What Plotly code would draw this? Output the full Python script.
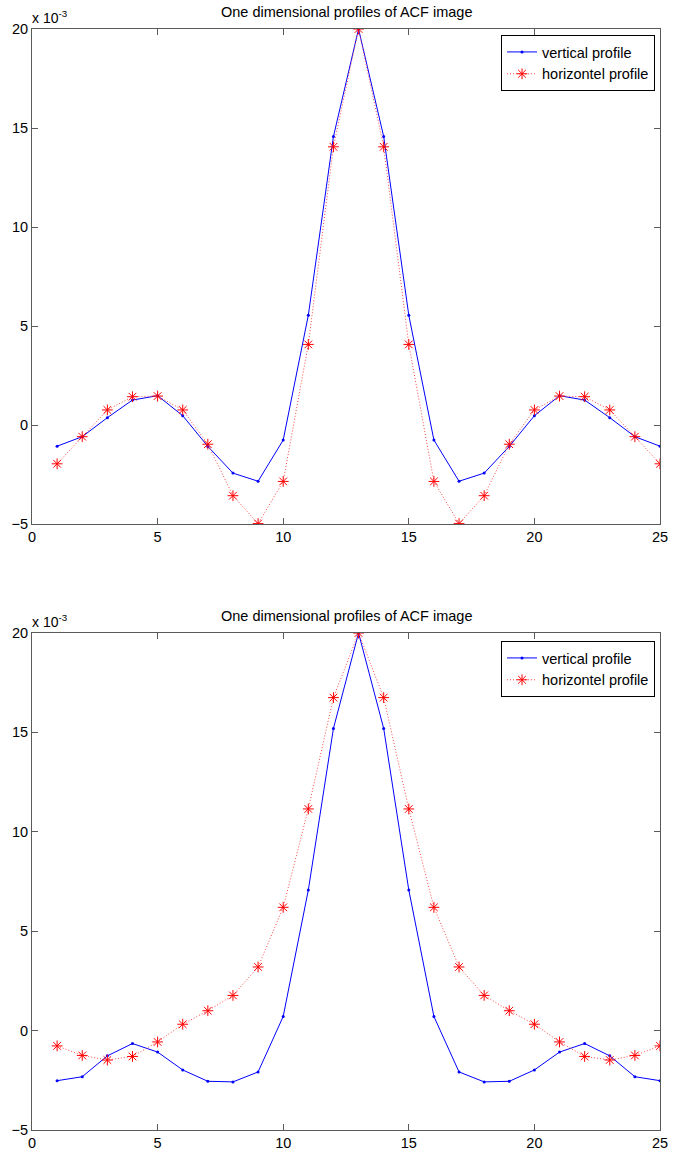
import plotly.graph_objects as go

# x positions (pixel index along the profile)
x_idx = list(range(1, 26))

# Top plot (values in units of 1e-3)
top_vertical = [-1.07, -0.59, 0.37, 1.26, 1.48, 0.47, -1.08, -2.43, -2.84, -0.76, 5.54, 14.57, 20.0,
                14.57, 5.54, -0.76, -2.84, -2.43, -1.08, 0.47, 1.48, 1.26, 0.37, -0.59, -1.07]
top_horizontal = [-1.96, -0.59, 0.76, 1.43, 1.46, 0.76, -0.97, -3.57, -4.98, -2.85, 4.07, 14.05, 20.0,
                  14.05, 4.07, -2.85, -4.98, -3.57, -0.97, 0.76, 1.46, 1.43, 0.76, -0.59, -1.96]

# Bottom plot (values in units of 1e-3)
bot_vertical = [-2.52, -2.32, -1.27, -0.65, -1.08, -1.98, -2.55, -2.58, -2.08, 0.71, 7.07, 15.2, 20.0,
                15.2, 7.07, 0.71, -2.08, -2.58, -2.55, -1.98, -1.08, -0.65, -1.27, -2.32, -2.52]
bot_horizontal = [-0.77, -1.25, -1.48, -1.3, -0.57, 0.32, 1.0, 1.77, 3.2, 6.2, 11.15, 16.75, 20.0,
                  16.75, 11.15, 6.2, 3.2, 1.77, 1.0, 0.32, -0.57, -1.3, -1.48, -1.25, -0.77]

x_ticks = [0, 5, 10, 15, 20, 25]
y_ticks = [-5, 0, 5, 10, 15, 20]
title_text = "One dimensional profiles of ACF image"
series_names = ["vertical profile", "horizontel profile"]

FONT = "Liberation Sans, Arial, Helvetica, sans-serif"
AXC = "#5a5a5a"

fig = go.Figure()

def add_pair(vert, horiz, xa, ya, legend):
    fig.add_trace(go.Scatter(
        x=x_idx, y=vert, mode="lines+markers", name=series_names[0],
        line=dict(color="#0000ff", width=1),
        marker=dict(symbol="circle", size=3, color="#0000ff"),
        xaxis=xa, yaxis=ya, legend=legend))
    fig.add_trace(go.Scatter(
        x=x_idx, y=horiz, mode="lines+markers", name=series_names[1],
        line=dict(color="rgb(255,70,70)", width=1, dash="1px,2px"),
        marker=dict(symbol="asterisk-open", size=9, color="#ff0000",
                    line=dict(color="#ff0000", width=1)),
        xaxis=xa, yaxis=ya, legend=legend))

add_pair(top_vertical, top_horizontal, "x", "y", "legend")
add_pair(bot_vertical, bot_horizontal, "x2", "y2", "legend2")

axis_common = dict(showline=True, linecolor=AXC, linewidth=1, mirror="allticks",
                   ticks="inside", ticklen=6, tickcolor=AXC, showgrid=False, zeroline=False,
                   tickfont=dict(family=FONT, size=14.5, color="#000000"))

W, H = 685, 1168
ml, mr, mt, mb = 30, 25, 29, 38
plot_w = W - ml - mr
plot_h = H - mt - mb
top_dom = [(1130 - 524) / plot_h, 1.0]
bot_dom = [0.0, (1130 - 633) / plot_h]

legend_common = dict(xanchor="right", yanchor="top", bgcolor="white",
                     bordercolor="#000000", borderwidth=1,
                     font=dict(family=FONT, size=14.5, color="#000000"),
                     tracegroupgap=0, itemwidth=30)

fig.update_layout(
    width=W, height=H,
    margin=dict(l=ml, r=mr, t=mt, b=mb),
    paper_bgcolor="white", plot_bgcolor="white",
    font=dict(family=FONT, size=14, color="#000000"),
    xaxis=dict(domain=[0, 1], range=[0, 25], tickvals=x_ticks, anchor="y", **axis_common),
    yaxis=dict(domain=top_dom, range=[-5, 20], tickvals=y_ticks, anchor="x", **axis_common),
    xaxis2=dict(domain=[0, 1], range=[0, 25], tickvals=x_ticks, anchor="y2", **axis_common),
    yaxis2=dict(domain=bot_dom, range=[-5, 20], tickvals=y_ticks, anchor="x2", **axis_common),
    legend=dict(x=(655 - ml) / plot_w, y=(1130 - 35) / plot_h, **legend_common),
    legend2=dict(x=(655 - ml) / plot_w, y=(1130 - 641) / plot_h, **legend_common),
    showlegend=True,
)

for dom in (top_dom, bot_dom):
    fig.add_annotation(text=title_text, xref="paper", yref="paper", x=0.5, y=dom[1],
                       yshift=7, xanchor="center", yanchor="bottom", showarrow=False,
                       font=dict(family=FONT, size=14.5))
    fig.add_annotation(text="x 10<sup>-3</sup>", xref="paper", yref="paper", x=0, y=dom[1],
                       yshift=1, xshift=-2, xanchor="left", yanchor="bottom", showarrow=False,
                       font=dict(family=FONT, size=14))

fig.write_html("out.html", config={"displayModeBar": False},
               post_script="document.body.style.margin='0';")
